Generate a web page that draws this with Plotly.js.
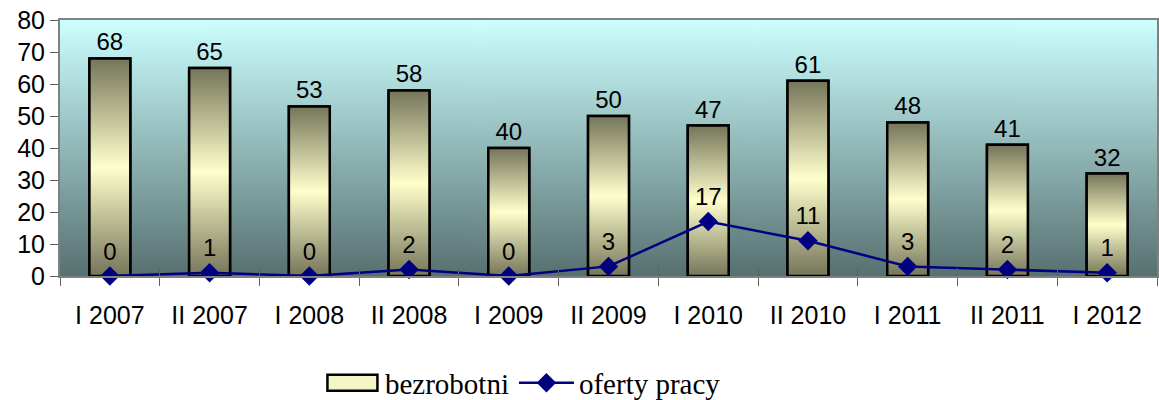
<!DOCTYPE html>
<html><head><meta charset="utf-8">
<script src="https://cdn.plot.ly/plotly-3.0.1.min.js"></script>
<style>html,body{margin:0;padding:0;background:#fff}#chart{width:1159px;height:400px}</style>
</head><body><div id="chart"></div>
<script>
const categories = ['I 2007','II 2007','I 2008','II 2008','I 2009','II 2009','I 2010','II 2010','I 2011','II 2011','I 2012'];
const bezrobotni = [68,65,53,58,40,50,47,61,48,41,32];
const ofertyPracy = [0,1,0,2,0,3,17,11,3,2,1];
const yTicks = [0,10,20,30,40,50,60,70,80];

const idx = categories.map((c,i)=>i);
const barW = 0.41;
const boundaries = categories.map((c,i)=>i-0.5).concat([categories.length-0.5]);

// background gradient image
const cv = document.createElement('canvas');
cv.width = 4; cv.height = 256;
const cx = cv.getContext('2d');
const g = cx.createLinearGradient(0,0,0,256);
g.addColorStop(0,'#ccffff');
g.addColorStop(1,'#577070');
cx.fillStyle = g; cx.fillRect(0,0,4,256);
const bgURL = cv.toDataURL();

const traces = [];
traces.push({
  type:'bar', name:'bezrobotni', x: idx, y: bezrobotni, width: barW,
  marker:{color:'#f4f4c4', line:{color:'#000', width:2.5}},
  texttemplate:'%{y}', textposition:'outside',
  textfont:{family:'Liberation Sans, Arial', size:24, color:'#000'},
  cliponaxis:false, hoverinfo:'skip'
});
const gradScale = [[0,'#75755a'],[0.5,'#ffffcc'],[1,'#75755a']];
bezrobotni.forEach((v,i)=>{
  traces.push({
    type:'scatter', mode:'lines', showlegend:false, hoverinfo:'skip',
    x:[i-barW/2, i-barW/2, i+barW/2, i+barW/2, i-barW/2],
    y:[0, v, v, 0, 0],
    fill:'toself',
    fillgradient:{type:'vertical', colorscale:gradScale},
    line:{color:'#000', width:2.5}
  });
});
traces.push({
  type:'scatter', mode:'lines+markers+text', name:'oferty pracy',
  x: idx, y: ofertyPracy,
  line:{color:'#000080', width:2.5},
  marker:{symbol:'diamond', size:15, color:'#000080'},
  text: ofertyPracy.map(String), textposition:'top center',
  textfont:{family:'Liberation Sans, Arial', size:24, color:'#000'},
  cliponaxis:false
});
// invisible trace on overlay axis for inside ticks
traces.push({type:'scatter', x:[-0.5], y:[0], xaxis:'x2', mode:'markers', marker:{opacity:0}, showlegend:false, hoverinfo:'skip'});

const layout = {
  width:1159, height:400,
  margin:{l:60, r:2, t:20, b:124, autoexpand:false},
  paper_bgcolor:'#fff', plot_bgcolor:'rgba(0,0,0,0)',
  showlegend:true,
  legend:{orientation:'h', xref:'paper', x:0.422, xanchor:'center', yref:'container', y:0.043, yanchor:'middle',
    font:{family:'Liberation Serif, Times New Roman', size:29, color:'#000'},
    bgcolor:'rgba(0,0,0,0)', itemwidth:55},
  images:[{source:bgURL, xref:'paper', yref:'paper', x:0, y:1, sizex:1, sizey:1,
    xanchor:'left', yanchor:'top', sizing:'stretch', layer:'below'}],
  xaxis:{range:[-0.5, categories.length-0.5], tickmode:'array', tickvals:idx, ticktext:categories,
    ticks:'', showgrid:false, zeroline:false, showline:true, linecolor:'#808080', linewidth:2, mirror:true,
    tickfont:{family:'Liberation Sans, Arial', size:25, color:'#000'}, ticklabelstandoff:16, automargin:false,
    minor:{tickmode:'array', tickvals:boundaries, ticks:'outside', ticklen:8, tickcolor:'#606060', tickwidth:1, showgrid:false},
    fixedrange:true},
  xaxis2:{overlaying:'x', anchor:'y', side:'bottom', range:[-0.5, categories.length-0.5], tickmode:'array',
    tickvals:boundaries, ticktext:boundaries.map(()=>''), ticks:'inside', ticklen:8, tickcolor:'#606060',
    showgrid:false, zeroline:false, showline:false, showticklabels:false},
  yaxis:{range:[0,80], tickmode:'array', tickvals:yTicks, ticks:'outside', ticklen:8, tickcolor:'#606060',
    showgrid:false, zeroline:false, showline:true, linecolor:'#808080', linewidth:2, mirror:true, automargin:false,
    tickfont:{family:'Liberation Sans, Arial', size:25, color:'#000'}, fixedrange:true}
};
Plotly.newPlot('chart', traces, layout, {displayModeBar:false, staticPlot:true}).then(gd=>{
  const items = gd.querySelectorAll('.legend .traces');
  if (items.length) {
    const p = items[0].querySelector('.legendpoints path');
    if (p) {
      p.setAttribute('d','M-25,-8h50v16h-50z');
      p.style.strokeWidth = '2.5px';
      p.style.stroke = '#000';
    }
  }
});
</script></body></html>
